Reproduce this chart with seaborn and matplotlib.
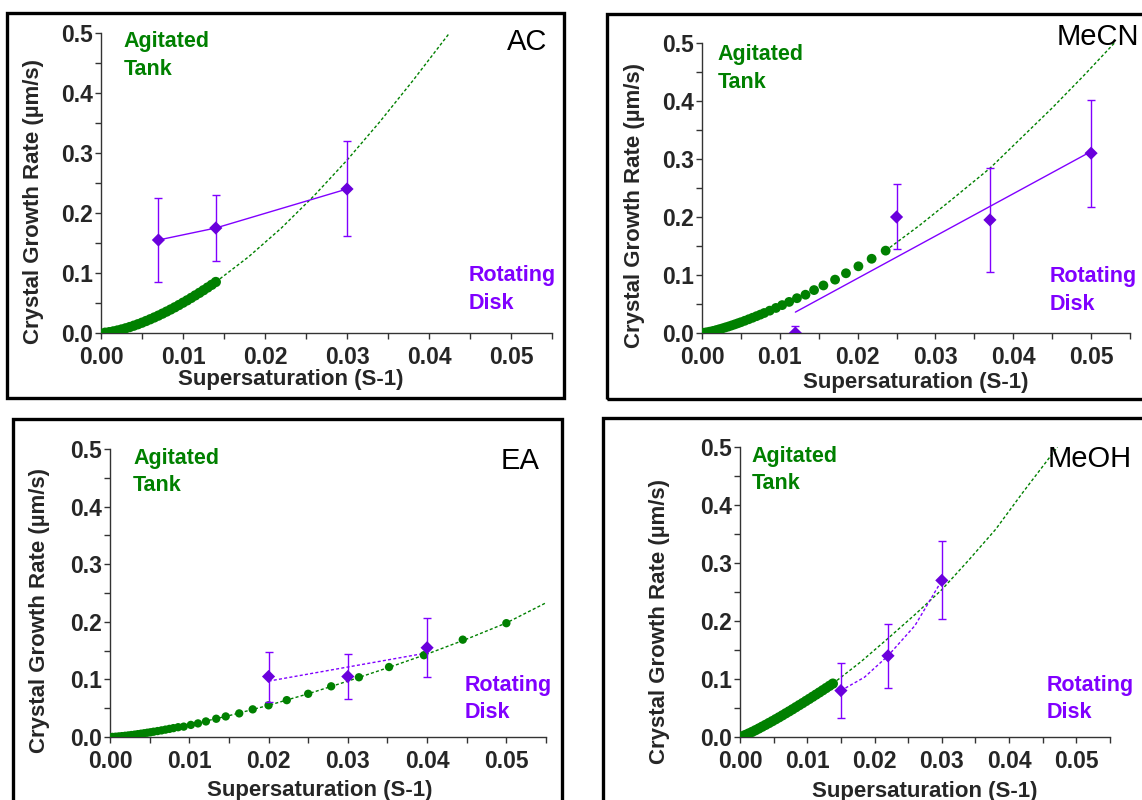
import numpy as np
import pandas as pd
import matplotlib
matplotlib.use("Agg")
import matplotlib.pyplot as plt
from matplotlib.patches import Rectangle
from matplotlib.ticker import MultipleLocator
import seaborn as sns

# Values

# AC
ac_tank_x = [0.0005, 0.001, 0.0015, 0.002, 0.0025, 0.003, 0.0035, 0.004, 0.0045, 0.005,
             0.0055, 0.006, 0.0065, 0.007, 0.0075, 0.008, 0.0085, 0.009, 0.0095, 0.010,
             0.0105, 0.011, 0.0115, 0.012, 0.0125, 0.013, 0.0135, 0.014]
ac_tank_y = [0.0005, 0.0014, 0.0027, 0.0042, 0.0059, 0.0078, 0.0099, 0.0122, 0.0146, 0.0172,
             0.0200, 0.0229, 0.0259, 0.0290, 0.0323, 0.0357, 0.0392, 0.0428, 0.0466, 0.0505,
             0.0544, 0.0585, 0.0627, 0.0669, 0.0713, 0.0758, 0.0803, 0.085]
ac_fit_x = [0.014, 0.018, 0.022, 0.026, 0.030, 0.034, 0.038, 0.0425]
ac_fit_y = [0.085, 0.127, 0.175, 0.229, 0.288, 0.352, 0.420, 0.500]
ac_disk_x = [0.007, 0.014, 0.030]
ac_disk_y = [0.155, 0.175, 0.240]
ac_disk_lo = [0.085, 0.120, 0.161]
ac_disk_hi = [0.225, 0.230, 0.320]
ac_line_x = [0.007, 0.014, 0.030]
ac_line_y = [0.155, 0.175, 0.240]

# MeCN
mecn_tank_x = [0.0003, 0.0006, 0.001, 0.0014, 0.0018, 0.0022, 0.0026, 0.003, 0.0034, 0.0038,
               0.0042, 0.0046, 0.005, 0.0055, 0.006, 0.0065, 0.007, 0.0075, 0.008, 0.0087,
               0.0095, 0.0103, 0.0112, 0.0122, 0.0133, 0.0144, 0.0156, 0.0171, 0.0185, 0.0201,
               0.0218, 0.0236]
mecn_tank_y = [0.0005, 0.0012, 0.0023, 0.0035, 0.0049, 0.0064, 0.0079, 0.0096, 0.0112, 0.0130,
               0.0148, 0.0167, 0.0186, 0.0211, 0.0237, 0.0263, 0.0290, 0.0317, 0.0345, 0.0385,
               0.0432, 0.0481, 0.0536, 0.060, 0.066, 0.074, 0.082, 0.092, 0.103, 0.115,
               0.128, 0.142]
mecn_fit_x = [0.0236, 0.028, 0.032, 0.037, 0.041, 0.045, 0.049, 0.053]
mecn_fit_y = [0.142, 0.186, 0.229, 0.284, 0.336, 0.388, 0.443, 0.500]
mecn_disk_x = [0.012, 0.025, 0.037, 0.050]
mecn_disk_y = [0.000, 0.200, 0.195, 0.310]
mecn_disk_lo = [-0.012, 0.145, 0.105, 0.218]
mecn_disk_hi = [0.012, 0.257, 0.285, 0.402]
mecn_line_x = [0.012, 0.050]
mecn_line_y = [0.036, 0.313]

# EA
ea_tank_x = [0.0003, 0.0007, 0.0011, 0.0015, 0.0019, 0.0023, 0.0027, 0.0031, 0.0035, 0.0039,
             0.0043, 0.0047, 0.0051, 0.0055, 0.006, 0.0065, 0.007, 0.0075, 0.008, 0.0086,
             0.0093, 0.0102, 0.0111, 0.0121, 0.0134, 0.0146, 0.0163, 0.018, 0.020, 0.0223,
             0.025, 0.0279, 0.0314, 0.0352, 0.0396, 0.0445, 0.050]
ea_tank_y = [0.0002, 0.0005, 0.0010, 0.0015, 0.0021, 0.0027, 0.0034, 0.0041, 0.0049, 0.0057,
             0.0065, 0.0074, 0.0082, 0.0092, 0.0103, 0.0115, 0.0128, 0.0141, 0.0154, 0.0170,
             0.018, 0.021, 0.0236, 0.027, 0.0317, 0.0357, 0.041, 0.048, 0.055, 0.064,
             0.075, 0.088, 0.1037, 0.1215, 0.142, 0.169, 0.1976]
ea_fit_x = [0.0, 0.005, 0.010, 0.015, 0.020, 0.025, 0.030, 0.035, 0.040, 0.045, 0.050, 0.055]
ea_fit_y = [0.0, 0.0081, 0.021, 0.037, 0.055, 0.075, 0.097, 0.120, 0.144, 0.170, 0.198, 0.233]
ea_disk_x = [0.020, 0.030, 0.040]
ea_disk_y = [0.105, 0.105, 0.155]
ea_disk_lo = [0.060, 0.066, 0.105]
ea_disk_hi = [0.148, 0.144, 0.206]
ea_line_x = [0.020, 0.040]
ea_line_y = [0.097, 0.146]

# MeOH
meoh_tank_x = [0.0003, 0.0008, 0.0013, 0.0018, 0.0023, 0.0028, 0.0033, 0.0038, 0.0043, 0.0048,
               0.0053, 0.0058, 0.0063, 0.0068, 0.0073, 0.0078, 0.0083, 0.0088, 0.0093, 0.0098,
               0.0103, 0.0108, 0.0113, 0.0118, 0.0123, 0.0128, 0.0133, 0.0138]
meoh_tank_y = [0.0011, 0.0035, 0.0061, 0.0088, 0.0117, 0.0147, 0.0178, 0.0209, 0.0241, 0.0273,
               0.0306, 0.0339, 0.0373, 0.0408, 0.0442, 0.0477, 0.0513, 0.0549, 0.0584, 0.0621,
               0.0657, 0.0694, 0.0731, 0.0768, 0.0806, 0.0844, 0.0882, 0.092]
meoh_fit_x = [0.0138, 0.018, 0.022, 0.026, 0.030, 0.034, 0.038, 0.042, 0.0472]
meoh_fit_y = [0.092, 0.130, 0.170, 0.211, 0.254, 0.305, 0.358, 0.421, 0.500]
meoh_disk_x = [0.015, 0.022, 0.030]
meoh_disk_y = [0.080, 0.140, 0.270]
meoh_disk_lo = [0.033, 0.085, 0.203]
meoh_disk_hi = [0.127, 0.195, 0.338]
meoh_line_x = [0.015, 0.0185, 0.022, 0.026, 0.030]
meoh_line_y = [0.080, 0.103, 0.140, 0.192, 0.270]

W, H = 1142, 800
GREEN = "#008000"
PURPLE = "#8000ff"
PURPLE_DARK = "#6a00dc"

sns.set_theme(style="ticks")
plt.rcParams["font.family"] = ["Liberation Sans", "DejaVu Sans"]

fig = plt.figure(figsize=(W / 100, H / 100), dpi=100)


def px_rect(l, t, r, b):
    return [l / W, 1 - b / H, (r - l) / W, (b - t) / H]


def draw_box(l, t, r, b):
    fig.patches.append(Rectangle((l / W, 1 - b / H), (r - l) / W, (b - t) / H,
                                 transform=fig.transFigure, fill=False,
                                 edgecolor="black", linewidth=2.4, clip_on=False))


def panel(rect, tank_x, tank_y, fit_x, fit_y, disk_x, disk_y, lo, hi,
          line_x, line_y, line_dashed, dot_size, name, name_pos, name_ha,
          tank_pos, disk_pos, ylab_pos, xlab_pos):
    ax = fig.add_axes(px_rect(*rect))
    dash = (0, (2.2, 1.6))
    sns.lineplot(x=fit_x, y=fit_y, ax=ax, color=GREEN, lw=1.0, sort=False,
                 estimator=None, linestyle=dash)
    sns.scatterplot(x=tank_x, y=tank_y, ax=ax, color=GREEN, s=dot_size,
                    edgecolor="none", zorder=3)
    sns.lineplot(x=line_x, y=line_y, ax=ax, color=PURPLE, lw=1.0, sort=False,
                 estimator=None, linestyle=dash if line_dashed else "-")
    dy = np.array(disk_y)
    yerr = [dy - np.array(lo), np.array(hi) - dy]
    ax.errorbar(disk_x, disk_y, yerr=yerr, fmt="none", ecolor=PURPLE,
                elinewidth=1.0, capsize=3, capthick=1.0, zorder=4)
    sns.scatterplot(x=disk_x, y=disk_y, ax=ax, color=PURPLE_DARK, marker="D",
                    s=45, edgecolor="none", zorder=5)

    ax.set_xlim(0, 0.055)
    ax.set_ylim(0, 0.5)
    ax.xaxis.set_major_locator(MultipleLocator(0.01))
    ax.xaxis.set_minor_locator(MultipleLocator(0.005))
    ax.yaxis.set_major_locator(MultipleLocator(0.1))
    ax.yaxis.set_minor_locator(MultipleLocator(0.05))
    ax.set_xticks([0.0, 0.01, 0.02, 0.03, 0.04, 0.05])
    ax.set_xticklabels(["0.00", "0.01", "0.02", "0.03", "0.04", "0.05"])
    ax.set_yticks([0.0, 0.1, 0.2, 0.3, 0.4, 0.5])
    ax.set_yticklabels(["0.0", "0.1", "0.2", "0.3", "0.4", "0.5"])
    ax.tick_params(which="both", direction="out", length=4, width=1,
                   color="#333333", labelsize=16.5)
    ax.tick_params(axis="x", pad=5)
    ax.tick_params(axis="y", pad=2)
    for lab in ax.get_xticklabels() + ax.get_yticklabels():
        lab.set_fontweight("bold")
    sns.despine(ax=ax)
    for sp in ["left", "bottom"]:
        ax.spines[sp].set_color("#333333")
        ax.spines[sp].set_linewidth(1.0)

    ax.set_xlabel("Supersaturation (S-1)", fontsize=16, fontweight="bold")
    ax.set_ylabel("Crystal Growth Rate (\u00b5m/s)", fontsize=16, fontweight="bold")
    ax.xaxis.set_label_coords(*xlab_pos)
    ax.yaxis.set_label_coords(*ylab_pos)

    ax.text(name_pos[0], name_pos[1], name, transform=ax.transAxes, fontsize=21,
            ha=name_ha, va="center", color="black", clip_on=False)
    ax.text(tank_pos[0], tank_pos[1], "Agitated\nTank", transform=ax.transAxes,
            fontsize=15.5, fontweight="bold", color=GREEN, ha="left", va="top",
            linespacing=1.4)
    ax.text(disk_pos[0], disk_pos[1], "Rotating\nDisk", transform=ax.transAxes,
            fontsize=15.5, fontweight="bold", color=PURPLE, ha="left", va="top",
            linespacing=1.4)
    return ax


# panel frames
draw_box(7, 13, 564, 398)
draw_box(607, 14, 1160, 399)
draw_box(13, 419, 562, 820)
draw_box(603, 418, 1160, 820)

panel((101, 33, 552, 333), ac_tank_x, ac_tank_y, ac_fit_x, ac_fit_y,
      ac_disk_x, ac_disk_y, ac_disk_lo, ac_disk_hi, ac_line_x, ac_line_y, False, 55,
      "AC", (0.99, 0.97), "right", (0.05, 1.005), (0.815, 0.225),
      (-0.126, 0.44), (0.42, -0.12))

panel((702, 43, 1130, 333), mecn_tank_x, mecn_tank_y, mecn_fit_x, mecn_fit_y,
      mecn_disk_x, mecn_disk_y, mecn_disk_lo, mecn_disk_hi, mecn_line_x, mecn_line_y,
      False, 50, "MeCN", (1.022, 1.02), "right", (0.037, 0.995), (0.813, 0.23),
      (-0.133, 0.44), (0.5, -0.135))

panel((110, 449, 546, 737), ea_tank_x, ea_tank_y, ea_fit_x, ea_fit_y,
      ea_disk_x, ea_disk_y, ea_disk_lo, ea_disk_hi, ea_line_x, ea_line_y, True, 36,
      "EA", (0.986, 0.958), "right", (0.053, 1.005), (0.814, 0.215),
      (-0.138, 0.44), (0.48, -0.15))

panel((740, 447, 1110, 737), meoh_tank_x, meoh_tank_y, meoh_fit_x, meoh_fit_y,
      meoh_disk_x, meoh_disk_y, meoh_disk_lo, meoh_disk_hi, meoh_line_x, meoh_line_y,
      True, 55, "MeOH", (1.06, 0.96), "right", (0.032, 1.005), (0.83, 0.215),
      (-0.189, 0.40), (0.5, -0.15))

fig.savefig("out.png", dpi=100)
